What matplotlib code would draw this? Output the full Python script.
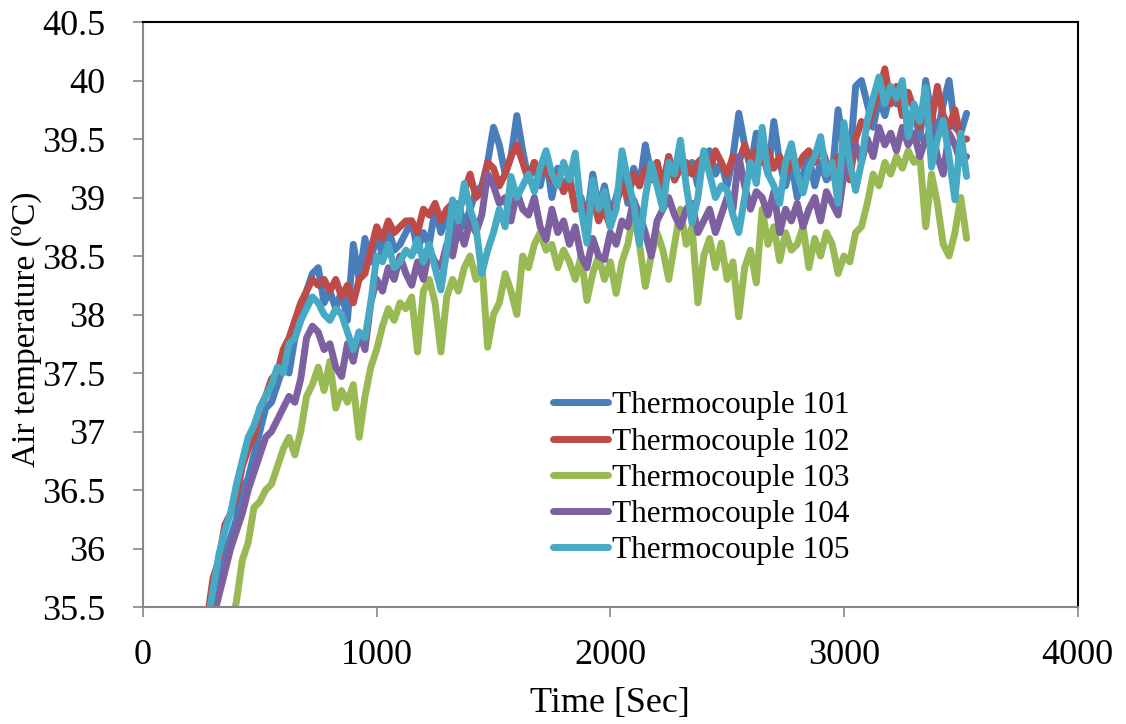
import numpy as np
import matplotlib
matplotlib.use('Agg')
import matplotlib.pyplot as plt

plt.rcParams['font.family'] = ['Liberation Serif', 'DejaVu Serif']

# sampling times (s), 25 s step, 250 .. 3525
time_s = [250, 275, 300, 325, 350, 375, 400, 425, 450, 475, 500, 525,
          550, 575, 600, 625, 650, 675, 700, 725, 750, 775, 800, 825,
          850, 875, 900, 925, 950, 975, 1000, 1025, 1050, 1075, 1100, 1125,
          1150, 1175, 1200, 1225, 1250, 1275, 1300, 1325, 1350, 1375, 1400, 1425,
          1450, 1475, 1500, 1525, 1550, 1575, 1600, 1625, 1650, 1675, 1700, 1725,
          1750, 1775, 1800, 1825, 1850, 1875, 1900, 1925, 1950, 1975, 2000, 2025,
          2050, 2075, 2100, 2125, 2150, 2175, 2200, 2225, 2250, 2275, 2300, 2325,
          2350, 2375, 2400, 2425, 2450, 2475, 2500, 2525, 2550, 2575, 2600, 2625,
          2650, 2675, 2700, 2725, 2750, 2775, 2800, 2825, 2850, 2875, 2900, 2925,
          2950, 2975, 3000, 3025, 3050, 3075, 3100, 3125, 3150, 3175, 3200, 3225,
          3250, 3275, 3300, 3325, 3350, 3375, 3400, 3425, 3450, 3475, 3500, 3525]

tc101 = [35.0, 35.3, 35.5, 35.75, 35.95, 36.1, 36.25, 36.5, 36.6, 36.8, 37.0, 37.2,
         37.25, 37.4, 37.55, 37.5, 37.8, 37.95, 38.2, 38.35, 38.4, 38.1, 38.2, 38.05,
         38.2, 37.95, 38.6, 38.3, 38.65, 38.45, 38.7, 38.5, 38.75, 38.55, 38.6, 38.7,
         38.8, 38.55, 38.7, 38.6, 38.9, 38.7, 38.85, 38.6, 38.95, 38.75, 38.9, 39.05,
         39.1, 39.3, 39.6, 39.45, 39.2, 39.35, 39.7, 39.4, 39.15, 39.3, 39.1, 39.35,
         39.0, 39.25, 39.05, 39.2, 38.9, 39.0, 38.8, 39.2, 38.9, 39.1, 38.85, 39.0,
         39.2, 38.95, 39.25, 39.1, 39.45, 39.2, 39.3, 39.05, 39.35, 39.15, 39.4, 39.2,
         39.3, 39.1, 39.35, 39.4, 39.2, 39.3, 39.1, 39.35, 39.72, 39.45, 39.25, 39.55,
         39.4, 39.2, 39.65, 39.3, 39.1, 39.3, 39.0, 39.2, 39.35, 39.1, 39.3, 39.15,
         39.2, 39.75, 39.4, 39.3, 39.95, 40.0, 39.8, 39.6, 39.85, 39.7, 39.9, 39.8,
         39.85, 39.6, 39.75, 39.5, 40.0, 39.7, 39.55, 39.8, 40.0, 39.6, 39.55, 39.72]

tc102 = [35.1, 35.4, 35.75, 35.9, 36.2, 36.3, 36.45, 36.7, 36.85, 36.95, 37.2, 37.3,
         37.45, 37.5, 37.7, 37.8, 37.95, 38.1, 38.2, 38.3, 38.25, 38.3, 38.2, 38.3,
         38.15, 38.25, 38.1, 38.3, 38.35, 38.55, 38.75, 38.65, 38.8, 38.7, 38.75, 38.8,
         38.8, 38.7, 38.9, 38.85, 38.95, 38.8, 38.9, 38.95, 38.85, 39.05, 39.2, 39.0,
         39.05, 39.3, 39.25, 39.1, 39.2, 39.35, 39.45, 39.3, 39.15, 39.3, 39.2, 39.25,
         39.15, 39.2, 39.05, 39.15, 38.9, 38.95, 38.85, 39.0, 38.8, 38.9, 38.75, 38.95,
         39.1, 39.0, 39.2, 39.1, 39.25, 39.15, 39.3, 39.1, 39.35, 39.15, 39.25, 39.3,
         39.2, 39.3, 39.35, 39.25, 39.4, 39.3, 39.2, 39.35, 39.3, 39.45, 39.3, 39.4,
         39.3, 39.4, 39.25, 39.35, 39.2, 39.3, 39.25, 39.35, 39.4, 39.3, 39.45, 39.3,
         39.2, 39.35, 39.25, 39.15, 39.5, 39.65, 39.6, 39.75, 39.9, 40.1, 39.8, 39.95,
         39.7, 39.9, 39.75, 39.6, 39.85, 39.65, 39.95, 39.7, 39.6, 39.75, 39.5, 39.5]

tc103 = [34.6, 34.75, 34.9, 35.0, 35.15, 35.3, 35.55, 35.9, 36.05, 36.35, 36.4, 36.5,
         36.55, 36.7, 36.85, 36.95, 36.8, 37.0, 37.3, 37.4, 37.55, 37.35, 37.6, 37.2,
         37.35, 37.25, 37.4, 36.95, 37.3, 37.55, 37.7, 37.9, 38.05, 37.95, 38.1, 38.05,
         38.15, 37.68, 38.2, 38.3, 38.1, 37.68, 38.15, 38.3, 38.2, 38.4, 38.5, 38.3,
         38.45, 37.72, 38.0, 38.1, 38.35, 38.2, 38.0, 38.5, 38.4, 38.6, 38.7, 38.55,
         38.6, 38.4, 38.55, 38.45, 38.3, 38.5, 38.12, 38.35, 38.5, 38.3, 38.45, 38.18,
         38.45, 38.6, 38.87, 38.6, 38.24, 38.5, 38.7, 38.55, 38.3, 38.6, 38.9, 38.6,
         38.75, 38.1, 38.5, 38.65, 38.4, 38.61, 38.3, 38.45, 37.98, 38.4, 38.55, 38.27,
         38.9, 38.6, 38.75, 38.46, 38.7, 38.55, 38.6, 38.75, 38.4, 38.65, 38.5, 38.7,
         38.6, 38.35, 38.5, 38.45, 38.7, 38.75, 38.95, 39.2, 39.1, 39.3, 39.2, 39.35,
         39.25, 39.4, 39.3, 39.35, 38.75, 39.2, 38.95, 38.6, 38.5, 38.7, 39.0, 38.65]

tc104 = [34.95, 35.2, 35.4, 35.6, 35.8, 36.0, 36.15, 36.3, 36.5, 36.65, 36.8, 36.95,
         37.0, 37.1, 37.2, 37.3, 37.25, 37.45, 37.8, 37.9, 37.85, 37.7, 37.75, 37.55,
         37.47, 37.75, 37.6, 37.85, 37.7, 38.1, 38.3, 38.2, 38.4, 38.3, 38.5, 38.35,
         38.25, 38.45, 38.3, 38.55, 38.45, 38.4, 38.6, 38.5, 38.75, 38.6, 38.8, 38.7,
         38.85, 39.2, 39.1, 38.95, 39.0, 38.8, 39.05, 38.9, 38.85, 39.0, 38.75, 38.64,
         38.9, 38.7, 38.8, 38.6, 38.75, 38.5, 38.4, 38.65, 38.5, 38.47, 38.7, 38.6,
         38.8, 38.75, 38.98, 38.85, 38.7, 38.5, 38.8, 38.9, 39.0, 38.85, 38.75, 38.9,
         38.95, 38.7, 38.8, 38.9, 38.7, 38.85, 39.0, 38.9, 39.35, 39.1, 38.9, 39.05,
         39.0, 38.85, 39.05, 38.7, 38.9, 38.8, 38.95, 38.75, 38.9, 39.0, 38.8, 39.05,
         38.95, 38.85, 39.2, 39.4, 39.45, 39.3, 39.5, 39.35, 39.6, 39.45, 39.55, 39.4,
         39.6, 39.45, 39.55, 39.35, 39.5, 39.6, 39.35, 39.2, 39.55, 39.45, 39.3, 39.35]

tc105 = [35.0, 35.35, 35.65, 35.95, 36.15, 36.3, 36.55, 36.75, 36.95, 37.05, 37.2, 37.3,
         37.4, 37.55, 37.5, 37.75, 37.8, 37.95, 38.05, 38.15, 38.1, 38.0, 37.95, 38.05,
         38.0, 37.85, 37.7, 37.85, 37.8, 38.1, 38.5, 38.45, 38.6, 38.4, 38.45, 38.55,
         38.5, 38.64, 38.45, 38.6, 38.4, 38.21, 38.55, 38.98, 38.8, 39.12, 38.9, 38.75,
         38.35, 38.55, 38.7, 38.9, 38.75, 39.18, 39.0, 39.1, 39.2, 39.05, 39.25, 39.4,
         39.2, 39.1, 39.3, 39.15, 39.38, 38.9, 38.61, 39.15, 38.9, 39.05, 38.75, 38.9,
         39.4, 39.15, 38.95, 38.6, 39.0, 39.29, 39.1, 38.9, 39.3, 39.2, 39.49, 39.1,
         38.78, 39.0, 39.4, 39.2, 39.0, 39.1, 39.06, 38.85, 38.7, 39.0, 39.3, 39.12,
         39.6, 39.2, 39.1, 38.95, 39.3, 39.46, 39.2, 39.04, 39.25, 39.35, 39.52, 39.2,
         39.3, 38.95, 39.64, 39.3, 39.06, 39.3, 39.66, 39.85, 40.03, 39.8, 39.95, 39.85,
         40.0, 39.52, 39.8, 39.65, 39.94, 39.26, 39.5, 39.66, 39.35, 38.98, 39.55, 39.18]

labels = ['Thermocouple 101', 'Thermocouple 102', 'Thermocouple 103',
          'Thermocouple 104', 'Thermocouple 105']
colors = ['#4A7EBB', '#BE4B48', '#98B954', '#7D60A0', '#46AAC5']
values = [tc101, tc102, tc103, tc104, tc105]

fig = plt.figure(figsize=(11.26, 7.24), dpi=100)
ax = fig.add_axes([0.127, 0.1616, 0.830, 0.808])

for name, vals, col in zip(labels, values, colors):
    ax.plot(time_s, vals, color=col, lw=5.0, label=name, solid_joinstyle='round',
            solid_capstyle='round')

ax.set_xlim(0, 4000)
ax.set_ylim(35.5, 40.5)
ax.set_xticks([0, 1000, 2000, 3000, 4000])
ax.set_yticks([35.5, 36, 36.5, 37, 37.5, 38, 38.5, 39, 39.5, 40, 40.5])
ax.set_yticklabels(['35.5', '36', '36.5', '37', '37.5', '38', '38.5', '39', '39.5', '40', '40.5'])

for s in ['left', 'bottom']:
    ax.spines[s].set_color('#868686')
    ax.spines[s].set_linewidth(1.5)
for s in ['top', 'right']:
    ax.spines[s].set_color('black')
    ax.spines[s].set_linewidth(1.5)
ax.tick_params(axis='both', direction='out', length=7, width=1.2, color='#868686',
               labelsize=26)
ax.tick_params(axis='x', pad=16)
ax.tick_params(axis='y', pad=20)

ax.set_xlabel('Time [Sec]', fontsize=26, labelpad=11)
ax.set_ylabel('Air temperature (ºC)', fontsize=24, labelpad=-2)
ax.yaxis.set_label_coords(-0.108, 0.475)

ax.legend(loc='upper left', bbox_to_anchor=(0.425, 0.39), frameon=False, fontsize=22.5,
          handlelength=1.76, handletextpad=0.15, labelspacing=0.23, borderaxespad=0)

fig.savefig('out.png', dpi=100)
